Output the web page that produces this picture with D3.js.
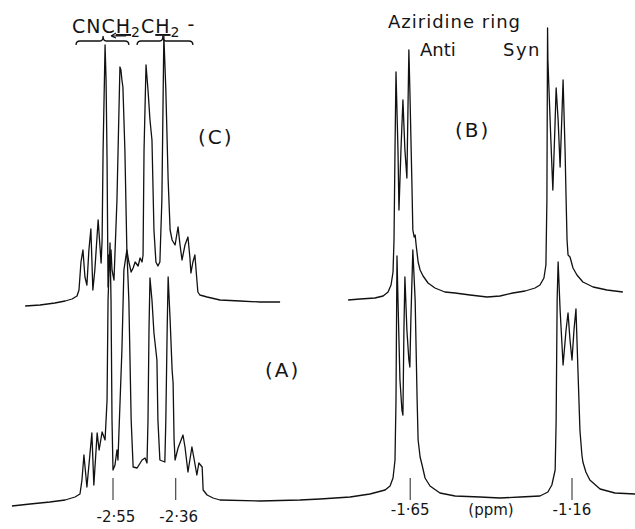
<!DOCTYPE html>
<html>
<head>
<meta charset="utf-8">
<script src="https://cdn.jsdelivr.net/npm/d3@7"></script>
<style>
    body { margin: 0; background: #ffffff; }
    text { font-family: "DejaVu Sans", sans-serif; fill: #151515; }
</style>
</head>
<body>
<div id="spectrum"></div>
<script>
// [chemical shift (ppm), intensity above baseline]
var spectrum_c = [
    [-2.816, 4], [-2.771, 5], [-2.726, 7], [-2.695, 9], [-2.674, 11], [-2.659, 14], [-2.653, 20],
    [-2.647, 48], [-2.641, 60], [-2.635, 33], [-2.629, 25], [-2.623, 60], [-2.617, 81], [-2.611, 20],
    [-2.605, 40], [-2.595, 90], [-2.586, 47], [-2.583, 70], [-2.580, 160], [-2.574, 265], [-2.571, 230],
    [-2.568, 150], [-2.565, 23], [-2.562, 55], [-2.559, 45], [-2.556, 60], [-2.553, 40], [-2.547, 30],
    [-2.538, 110], [-2.529, 243], [-2.526, 240], [-2.523, 230], [-2.520, 223], [-2.514, 160], [-2.508, 60],
    [-2.502, 48], [-2.495, 38], [-2.489, 42], [-2.483, 48], [-2.474, 44], [-2.468, 52], [-2.462, 48],
    [-2.459, 55], [-2.456, 160], [-2.450, 245], [-2.444, 220], [-2.438, 190], [-2.432, 170], [-2.426, 80],
    [-2.420, 48], [-2.414, 44], [-2.408, 48], [-2.402, 110], [-2.396, 274], [-2.390, 220], [-2.383, 130],
    [-2.377, 80], [-2.371, 70], [-2.362, 65], [-2.353, 83], [-2.347, 65], [-2.341, 50], [-2.332, 65],
    [-2.323, 73], [-2.317, 52], [-2.314, 37], [-2.308, 48], [-2.302, 55], [-2.296, 30], [-2.293, 18],
    [-2.287, 15], [-2.265, 13], [-2.226, 10], [-2.165, 9], [-2.105, 8], [-2.044, 8]
];

var spectrum_a = [
    [-2.856, 4], [-2.801, 6], [-2.741, 8], [-2.695, 10], [-2.665, 13], [-2.650, 16], [-2.644, 30],
    [-2.638, 55], [-2.629, 23], [-2.614, 77], [-2.608, 25], [-2.598, 77], [-2.592, 60], [-2.583, 78],
    [-2.574, 70], [-2.568, 110], [-2.565, 210], [-2.559, 267], [-2.556, 210], [-2.553, 90], [-2.550, 40],
    [-2.544, 45], [-2.538, 60], [-2.535, 50], [-2.523, 160], [-2.517, 240], [-2.508, 260], [-2.502, 210],
    [-2.495, 90], [-2.489, 43], [-2.477, 42], [-2.462, 50], [-2.453, 52], [-2.447, 47], [-2.444, 90],
    [-2.441, 180], [-2.438, 232], [-2.432, 210], [-2.426, 177], [-2.417, 150], [-2.414, 90], [-2.408, 50],
    [-2.393, 48], [-2.390, 90], [-2.386, 180], [-2.383, 233], [-2.377, 190], [-2.371, 140], [-2.368, 127],
    [-2.365, 70], [-2.362, 50], [-2.353, 62], [-2.338, 75], [-2.332, 63], [-2.323, 38], [-2.311, 63],
    [-2.305, 52], [-2.296, 35], [-2.290, 47], [-2.280, 43], [-2.277, 20], [-2.265, 15], [-2.247, 12],
    [-2.226, 10], [-2.105, 9], [-1.984, 10], [-1.923, 11], [-1.832, 13], [-1.772, 16], [-1.726, 20],
    [-1.711, 24], [-1.702, 32], [-1.696, 50], [-1.693, 110], [-1.690, 254], [-1.687, 210], [-1.681, 130],
    [-1.675, 100], [-1.672, 95], [-1.669, 180], [-1.666, 233], [-1.660, 180], [-1.654, 150], [-1.651, 143],
    [-1.648, 190], [-1.642, 260], [-1.635, 210], [-1.629, 110], [-1.626, 70], [-1.620, 53], [-1.614, 45],
    [-1.605, 32], [-1.590, 24], [-1.560, 17], [-1.514, 14], [-1.439, 13], [-1.378, 12], [-1.317, 13],
    [-1.257, 14], [-1.233, 18], [-1.221, 25], [-1.211, 40], [-1.208, 90], [-1.205, 210], [-1.202, 248],
    [-1.196, 200], [-1.187, 145], [-1.178, 180], [-1.172, 197], [-1.166, 170], [-1.160, 150], [-1.154, 180],
    [-1.148, 201], [-1.142, 140], [-1.136, 80], [-1.130, 55], [-1.127, 48], [-1.118, 38], [-1.106, 30],
    [-1.075, 21], [-1.030, 17], [-0.969, 16]
];

var spectrum_b = [
    [-1.838, 10], [-1.802, 11], [-1.757, 12], [-1.732, 14], [-1.717, 18], [-1.708, 25], [-1.702, 38],
    [-1.699, 70], [-1.696, 160], [-1.693, 238], [-1.687, 160], [-1.684, 100], [-1.678, 160], [-1.672, 210],
    [-1.666, 160], [-1.660, 132], [-1.654, 260], [-1.651, 220], [-1.645, 130], [-1.642, 80], [-1.638, 73],
    [-1.635, 75], [-1.632, 65], [-1.626, 48], [-1.620, 40], [-1.611, 34], [-1.596, 27], [-1.575, 22],
    [-1.545, 18], [-1.514, 17], [-1.469, 15], [-1.417, 13], [-1.378, 14], [-1.339, 17], [-1.302, 19],
    [-1.272, 22], [-1.257, 25], [-1.245, 32], [-1.239, 45], [-1.236, 110], [-1.234, 282], [-1.233, 250],
    [-1.230, 223], [-1.224, 170], [-1.218, 120], [-1.211, 190], [-1.208, 222], [-1.202, 190], [-1.196, 143],
    [-1.190, 200], [-1.187, 230], [-1.181, 160], [-1.178, 113], [-1.175, 70], [-1.172, 55], [-1.166, 53],
    [-1.157, 42], [-1.145, 35], [-1.127, 28], [-1.096, 23], [-1.054, 20], [-1.006, 18]
];

var tick_values = [-2.55, -2.36, -1.65, -1.16];
var tick_labels = ["-2·55", "-2·36", "-1·65", "-1·16"];

// [start, cusp, end] in ppm for the two group braces
var brace_ranges = [[-2.662, -2.580, -2.502], [-2.477, -2.399, -2.308]];

var width = 635;
var height = 529;

var svg = d3.select("#spectrum").append("svg")
            .attr("width", width)
            .attr("height", height);

var x_scale = d3.scaleLinear().domain([-2.55, -1.16]).range([113, 572]);

function intensity_scale(baseline)
{
    return d3.scaleLinear().domain([0, 300]).range([baseline, baseline - 300]);
}

function draw_trace(points, baseline)
{
    var y_scale = intensity_scale(baseline);
    var line = d3.line()
                 .x(function (d) { return x_scale(d[0]); })
                 .y(function (d) { return y_scale(d[1]); });

    svg.append("path")
       .datum(points)
       .attr("d", line)
       .attr("fill", "none")
       .attr("stroke", "#111")
       .attr("stroke-width", 1.3)
       .attr("stroke-linejoin", "round");
}

draw_trace(spectrum_c, 310);
draw_trace(spectrum_b, 310);
draw_trace(spectrum_a, 510);

// shift markers under the bottom trace
svg.selectAll(".tick-mark")
   .data(tick_values)
   .enter().append("line")
   .attr("x1", function (d) { return x_scale(d); })
   .attr("x2", function (d) { return x_scale(d); })
   .attr("y1", 478)
   .attr("y2", 500)
   .attr("stroke", "#222")
   .attr("stroke-width", 1);

svg.selectAll(".tick-label")
   .data(tick_values)
   .enter().append("text")
   .attr("x", function (d) { return x_scale(d) + (d < -2 ? 3 : 0); })
   .attr("y", function (d) { return d < -2 ? 522 : 515; })
   .attr("text-anchor", "middle")
   .style("font-size", "15px")
   .text(function (d, i) { return tick_labels[i]; });

svg.append("text")
   .attr("x", 491).attr("y", 515)
   .attr("text-anchor", "middle")
   .style("font-size", "15px")
   .text("(ppm)");

// braces over the CNCH2CH2 groups
for (var index in brace_ranges)
{
    var r = brace_ranges[index];
    var x0 = x_scale(r[0]), xc = x_scale(r[1]), x1 = x_scale(r[2]);
    var d = "M" + x0 + ",45 Q" + x0 + ",41 " + (x0 + 4) + ",41 L" + (xc - 3) + ",41 Q" + xc + ",41 " + xc + ",36"
          + " Q" + xc + ",41 " + (xc + 3) + ",41 L" + (x1 - 4) + ",41 Q" + x1 + ",41 " + x1 + ",45";
    svg.append("path")
       .attr("d", d)
       .attr("fill", "none")
       .attr("stroke", "#111")
       .attr("stroke-width", 1.3);
}

var formula = svg.append("text")
                 .attr("x", 72).attr("y", 33)
                 .style("font-size", "19px")
                 .style("letter-spacing", "1px");
formula.append("tspan").text("CNC");
formula.append("tspan").attr("text-decoration", "underline").text("H");
formula.append("tspan").attr("dy", 4).style("font-size", "14px").text("2");
formula.append("tspan").attr("dy", -4).text("C");
formula.append("tspan").attr("text-decoration", "underline").text("H");
formula.append("tspan").attr("dy", 4).style("font-size", "14px").text("2");
formula.append("tspan").attr("dy", -6).text(" -");

// small arrow under the first marked proton
svg.append("path")
   .attr("d", "M126,36 L111,36 M111,36 L116,33 M111,36 L116,38")
   .attr("fill", "none")
   .attr("stroke", "#111")
   .attr("stroke-width", 1.2);

svg.append("text").attr("x", 198).attr("y", 144)
   .style("font-size", "20px").style("letter-spacing", "2px").text("(C)");
svg.append("text").attr("x", 455).attr("y", 137)
   .style("font-size", "20px").style("letter-spacing", "2px").text("(B)");
svg.append("text").attr("x", 265).attr("y", 377)
   .style("font-size", "20px").style("letter-spacing", "2px").text("(A)");

svg.append("text").attr("x", 388).attr("y", 28)
   .style("font-size", "18px").style("letter-spacing", "1px").text("Aziridine ring");
svg.append("text").attr("x", 420).attr("y", 56)
   .style("font-size", "18px").text("Anti");
svg.append("text").attr("x", 503).attr("y", 56)
   .style("font-size", "18px").style("letter-spacing", "1.5px").text("Syn");
</script>
</body>
</html>
